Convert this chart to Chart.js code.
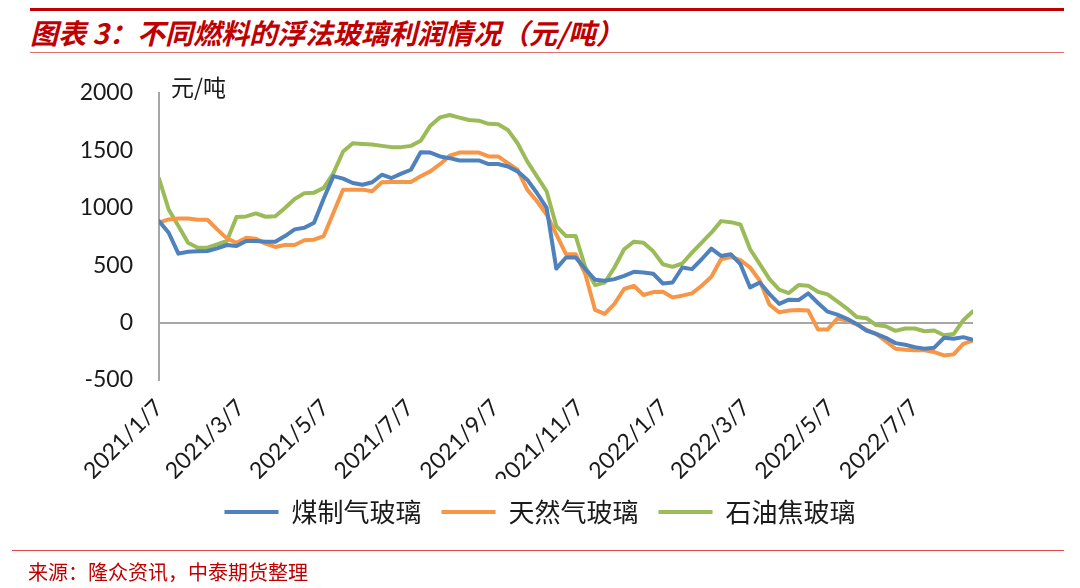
<!DOCTYPE html>
<html>
<head>
<meta charset="utf-8">
<script src="https://cdn.jsdelivr.net/npm/chart.js@4.4.0/dist/chart.umd.min.js"></script>
<style>
    body { margin: 0; width: 1080px; height: 588px; background: #fff; position: relative; overflow: hidden; font-family: "Noto Sans CJK SC", sans-serif; }
    #topLine { position: absolute; left: 30px; top: 8px; width: 1034px; height: 3px; background: #C00000; }
    #title { position: absolute; left: 30px; top: 14px; font-size: 28px; line-height: 36px; font-weight: bold; font-style: italic; color: #C00000; white-space: nowrap; }
    #titleLine { position: absolute; left: 30px; top: 52px; width: 1034px; height: 1px; background: #E37070; }
    #unit { position: absolute; left: 171px; top: 71px; font-size: 23px; line-height: 30px; color: #1a1a1a; z-index: 2; }
    #wrap { position: absolute; left: 0; top: 53px; width: 1080px; height: 507px; }
    #srcLine { position: absolute; left: 12px; top: 550px; width: 1052px; height: 1px; background: #E04848; }
    #source { position: absolute; left: 28px; top: 559px; font-size: 20px; line-height: 26px; color: #C00000; white-space: nowrap; }
</style>
</head>
<body>
<div id="topLine"></div>
<div id="title">图表 3：不同燃料的浮法玻璃利润情况（元/吨）</div>
<div id="titleLine"></div>
<div id="unit">元/吨</div>
<div id="wrap"><canvas id="profitChart" width="1080" height="507"></canvas></div>
<div id="srcLine"></div>
<div id="source">来源：隆众资讯，中泰期货整理</div>

<script>
// weekly dates (Thursdays)
const weekDates = [
    '2021/1/7', '2021/1/14', '2021/1/21', '2021/1/28', '2021/2/4', '2021/2/11', '2021/2/18', '2021/2/25',
    '2021/3/4', '2021/3/11', '2021/3/18', '2021/3/25', '2021/4/1', '2021/4/8', '2021/4/15', '2021/4/22',
    '2021/4/29', '2021/5/6', '2021/5/13', '2021/5/20', '2021/5/27', '2021/6/3', '2021/6/10', '2021/6/17',
    '2021/6/24', '2021/7/1', '2021/7/8', '2021/7/15', '2021/7/22', '2021/7/29', '2021/8/5', '2021/8/12',
    '2021/8/19', '2021/8/26', '2021/9/2', '2021/9/9', '2021/9/16', '2021/9/23', '2021/9/30', '2021/10/7',
    '2021/10/14', '2021/10/21', '2021/10/28', '2021/11/4', '2021/11/11', '2021/11/18', '2021/11/25', '2021/12/2',
    '2021/12/9', '2021/12/16', '2021/12/23', '2021/12/30', '2022/1/6', '2022/1/13', '2022/1/20', '2022/1/27',
    '2022/2/3', '2022/2/10', '2022/2/17', '2022/2/24', '2022/3/3', '2022/3/10', '2022/3/17', '2022/3/24',
    '2022/3/31', '2022/4/7', '2022/4/14', '2022/4/21', '2022/4/28', '2022/5/5', '2022/5/12', '2022/5/19',
    '2022/5/26', '2022/6/2', '2022/6/9', '2022/6/16', '2022/6/23', '2022/6/30', '2022/7/7', '2022/7/14',
    '2022/7/21', '2022/7/28', '2022/8/4', '2022/8/11', '2022/8/18'
];

// x axis tick labels
const tickDates = ['2021/1/7', '2021/3/7', '2021/5/7', '2021/7/7', '2021/9/7',
                   '2021/11/7', '2022/1/7', '2022/3/7', '2022/5/7', '2022/7/7'];

// profit, yuan/ton
const coalGasGlass = [
    883, 782, 600, 617, 620, 623, 646, 675, 667, 710, 710, 703, 703, 753, 811, 825, 869,
    1080, 1275, 1253, 1215, 1200, 1221, 1287, 1258, 1296, 1330, 1483, 1480, 1446, 1431, 1411, 1411, 1411,
    1380, 1380, 1359, 1316, 1244, 1128, 998, 470, 566, 566, 465, 372, 364, 378, 407, 442, 436,
    425, 340, 349, 479, 465, 551, 643, 580, 595, 508, 306, 349, 248, 162, 199, 196, 254,
    170, 95, 69, 32, -12, -69, -98, -133, -179, -193, -214, -228, -219, -133, -141, -127, -150
];
const naturalGasGlass = [
    869, 898, 906, 906, 895, 895, 811, 733, 695, 739, 730, 687, 658, 675, 675, 716, 721,
    753, 955, 1157, 1157, 1157, 1143, 1221, 1224, 1224, 1224, 1273, 1316, 1379, 1452, 1480, 1480, 1480,
    1446, 1446, 1388, 1330, 1157, 1056, 941, 768, 595, 595, 421, 110, 75, 162, 292, 320, 240,
    265, 268, 219, 234, 254, 320, 398, 551, 571, 543, 479, 364, 156, 89, 104, 110, 104,
    -60, -60, 35, 17, -17, -63, -98, -162, -228, -236, -242, -242, -257, -286, -277, -185, -155
];
const petCokeGlass = [
    1253, 984, 840, 695, 652, 652, 681, 710, 918, 924, 950, 921, 926, 998, 1076, 1125, 1131,
    1172, 1301, 1489, 1561, 1555, 1550, 1538, 1527, 1527, 1538, 1582, 1714, 1786, 1807, 1784, 1763, 1757,
    1730, 1726, 1677, 1561, 1403, 1273, 1143, 840, 753, 753, 479, 326, 349, 479, 638, 704, 695,
    620, 508, 485, 514, 609, 695, 782, 883, 874, 854, 638, 508, 378, 286, 257, 326, 320,
    268, 245, 185, 122, 48, 38, -22, -32, -72, -52, -52, -76, -69, -110, -100, 20, 98
];

const seriesNames = ['煤制气玻璃', '天然气玻璃', '石油焦玻璃'];
const seriesColors = ['#4F81BD', '#F79646', '#9BBB59'];

// days since first date
function dayNum(s) {
    const [y, m, d] = s.split('/').map(Number);
    return Math.round((Date.UTC(y, m - 1, d) - Date.UTC(2021, 0, 7)) / 86400000);
}

function toPoints(values) {
    return values.map((v, i) => ({ x: dayNum(weekDates[i]), y: v }));
}

const tickFont = { family: 'Lato, "Noto Sans", sans-serif', size: 23 };

document.addEventListener('DOMContentLoaded', function() {
    const ctx = document.getElementById('profitChart').getContext('2d');
    const allSeries = [coalGasGlass, naturalGasGlass, petCokeGlass];

    new Chart(ctx, {
        type: 'line',
        data: {
            datasets: allSeries.map((vals, k) => ({
                label: seriesNames[k],
                data: toPoints(vals),
                borderColor: seriesColors[k],
                backgroundColor: seriesColors[k],
                borderWidth: 4,
                pointRadius: 0,
                pointStyle: 'line',
                tension: 0,
                borderJoinStyle: 'round',
                borderCapStyle: 'round',
                fill: false
            }))
        },
        options: {
            responsive: false,
            animation: false,
            layout: { padding: { top: 24, bottom: 25, left: 0, right: 0 } },
            scales: {
                x: {
                    type: 'linear',
                    min: 0,
                    max: dayNum(weekDates[weekDates.length - 1]),
                    afterBuildTicks: function(scale) {
                        scale.ticks = tickDates.map(t => ({ value: dayNum(t) }));
                    },
                    afterFit: function(scale) { scale.height = 99; },
                    ticks: {
                        autoSkip: false,
                        maxRotation: 45,
                        minRotation: 45,
                        padding: 6,
                        font: tickFont,
                        color: '#1a1a1a',
                        callback: function(value) {
                            return tickDates.find(t => dayNum(t) === value) || '';
                        }
                    },
                    grid: { display: false },
                    border: { display: false }
                },
                y: {
                    min: -500,
                    max: 2000,
                    afterFit: function(scale) { scale.width = 159; },
                    ticks: {
                        stepSize: 500,
                        padding: 26,
                        font: tickFont,
                        color: '#1a1a1a',
                        callback: v => String(v)
                    },
                    grid: {
                        drawTicks: false,
                        lineWidth: 2,
                        color: c => (c.tick && c.tick.value === 0) ? '#A6A6A6' : 'rgba(0,0,0,0)'
                    },
                    border: { display: true, color: '#A6A6A6', width: 2 }
                },
                // empty right margin so the legend centres on the page
                yRight: {
                    position: 'right',
                    afterFit: function(scale) { scale.width = 107; },
                    ticks: { display: false },
                    grid: { display: false },
                    border: { display: false }
                }
            },
            plugins: {
                legend: {
                    display: true,
                    position: 'bottom',
                    labels: {
                        usePointStyle: true,
                        pointStyleWidth: 54,
                        padding: 20,
                        color: '#1a1a1a',
                        font: { family: '"Noto Sans CJK SC", sans-serif', size: 26 }
                    }
                },
                tooltip: { enabled: false }
            }
        }
    });
});
</script>
</body>
</html>
